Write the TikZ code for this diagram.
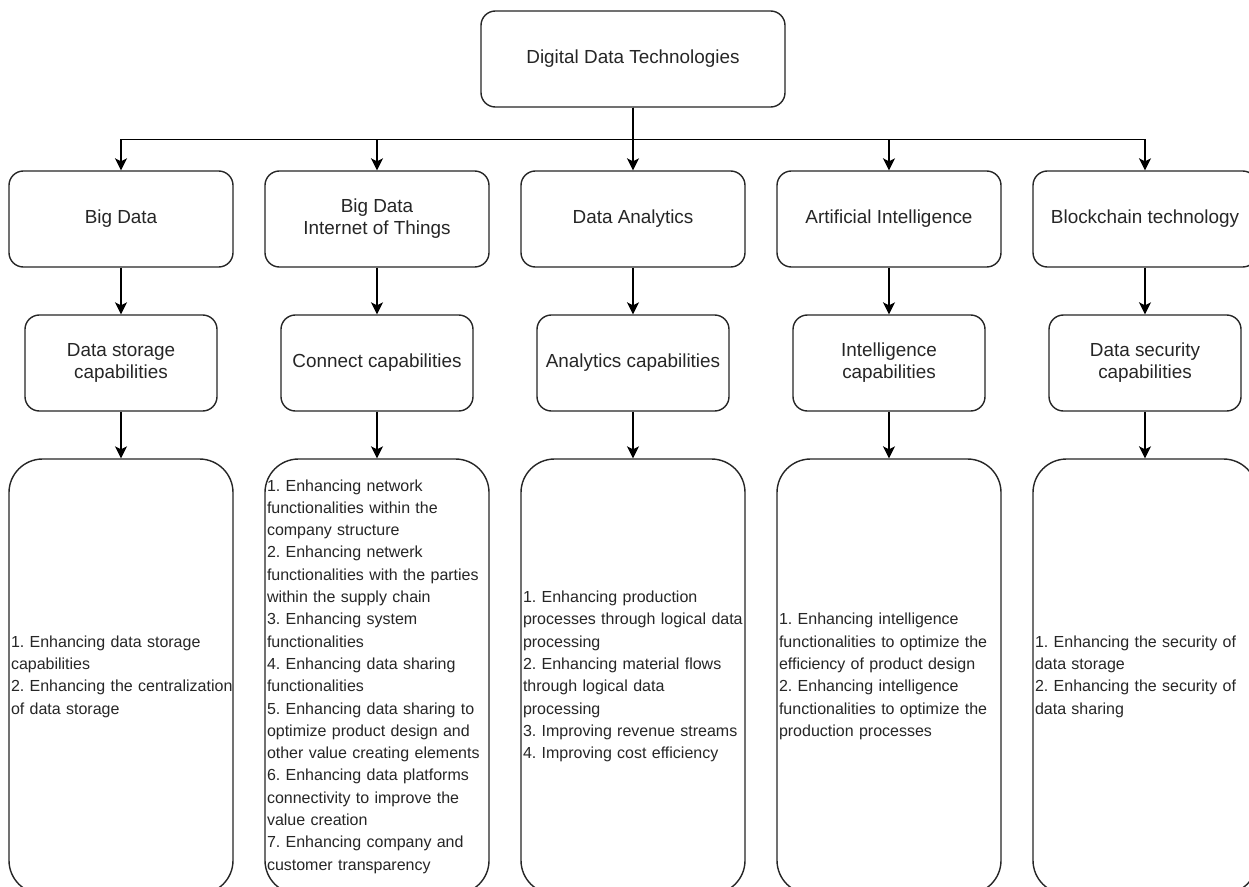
\documentclass[tikz,border=0pt]{standalone}
\usepackage{fontspec}
\setmainfont{Liberation Sans}
\usetikzlibrary{arrows.meta}
% one unbreakable line of an effect list
\newcommand\effline[1]{\mbox{#1}\\}
\begin{document}
\begin{tikzpicture}[x=1pt,y=-1pt,
  box/.style={draw=black!85, line width=1.4pt, rounded corners=14.4pt, fill=white,
    text=black!85, align=center, inner sep=0pt, font=\fontsize{18.9}{22}\selectfont},
  rootbox/.style={box, minimum width=304pt, minimum height=96pt},
  techbox/.style={box, minimum width=224pt, minimum height=96pt},
  capbox/.style={box, minimum width=192pt, minimum height=96pt},
  listbox/.style={draw=black!85, line width=1.4pt, rounded corners=33.6pt, fill=white,
    text=black!85, align=left, text width=220pt, inner xsep=2pt, inner ysep=0pt,
    minimum height=435pt, font=\fontsize{16}{22.3}\selectfont\frenchspacing},
  arr/.style={draw=black, line width=1.4pt, -{Stealth[length=12pt,width=12pt,inset=3pt]}}
]
\clip (0,0) rectangle (1249,886);
\fill[white] (0,0) rectangle (1249,886);

% root
\node[rootbox] (root) at (633,59) {Digital Data Technologies};

% technologies
\node[techbox] (t1) at (121,219)  {Big Data};
\node[techbox] (t2) at (377,219)  {Big Data\\Internet of Things};
\node[techbox] (t3) at (633,219)  {Data Analytics};
\node[techbox] (t4) at (889,219)  {Artificial Intelligence};
\node[techbox] (t5) at (1145,219) {Blockchain technology};

% capabilities
\node[capbox] (c1) at (121,363)  {Data storage\\capabilities};
\node[capbox] (c2) at (377,363)  {Connect capabilities};
\node[capbox] (c3) at (633,363)  {Analytics capabilities};
\node[capbox] (c4) at (889,363)  {Intelligence\\capabilities};
\node[capbox] (c5) at (1145,363) {Data security\\capabilities};

% effects
\node[listbox] (l1) at (121,676.5) {%
  \effline{1. Enhancing data storage}
  \effline{capabilities}
  \effline{2. Enhancing the centralization}
  \mbox{of data storage}};
\node[listbox] (l2) at (377,676.5) {%
  \effline{1. Enhancing network}
  \effline{functionalities within the}
  \effline{company structure}
  \effline{2. Enhancing netwerk}
  \effline{functionalities with the parties}
  \effline{within the supply chain}
  \effline{3. Enhancing system}
  \effline{functionalities}
  \effline{4. Enhancing data sharing}
  \effline{functionalities}
  \effline{5. Enhancing data sharing to}
  \effline{optimize product design and}
  \effline{other value creating elements}
  \effline{6. Enhancing data platforms}
  \effline{connectivity to improve the}
  \effline{value creation}
  \effline{7. Enhancing company and}
  \mbox{customer transparency}};
\node[listbox] (l3) at (633,676.5) {%
  \effline{1. Enhancing production}
  \effline{processes through logical data}
  \effline{processing}
  \effline{2. Enhancing material flows}
  \effline{through logical data}
  \effline{processing}
  \effline{3. Improving revenue streams}
  \mbox{4. Improving cost efficiency}};
\node[listbox] (l4) at (889,676.5) {%
  \effline{1. Enhancing intelligence}
  \effline{functionalities to optimize the}
  \effline{efficiency of product design}
  \effline{2. Enhancing intelligence}
  \effline{functionalities to optimize the}
  \mbox{production processes}};
\node[listbox] (l5) at (1145,676.5) {%
  \effline{1. Enhancing the security of}
  \effline{data storage}
  \effline{2. Enhancing the security of}
  \mbox{data sharing}};

% connectors
\draw[arr] (root.south) -- ++(0,32) -| (t1.north);
\draw[arr] (root.south) -- ++(0,32) -| (t2.north);
\draw[arr] (root.south) -- (t3.north);
\draw[arr] (root.south) -- ++(0,32) -| (t4.north);
\draw[arr] (root.south) -- ++(0,32) -| (t5.north);
\foreach \i in {1,...,5} {
  \draw[arr] (t\i.south) -- (c\i.north);
  \draw[arr] (c\i.south) -- (l\i.north);
}
\end{tikzpicture}
\end{document}
